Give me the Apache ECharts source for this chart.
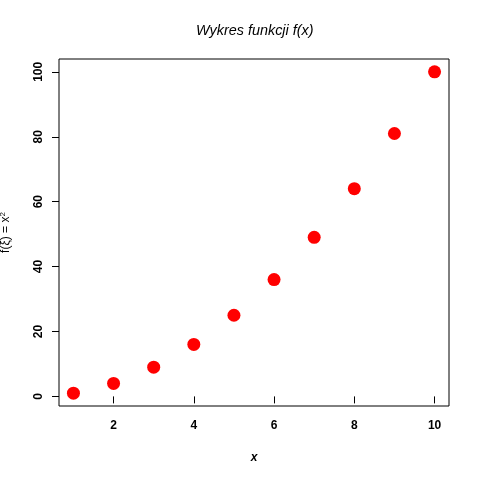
<!DOCTYPE html>
<html><head><meta charset="utf-8">
<script src="https://cdn.jsdelivr.net/npm/echarts@6/dist/echarts.min.js"></script>
<style>html,body{margin:0;padding:0;background:#fff}#c{width:480px;height:480px}</style>
</head><body><div id="c"></div>
<script>
const xValues = [1, 2, 3, 4, 5, 6, 7, 8, 9, 10];
const yValues = [1, 4, 9, 16, 25, 36, 49, 64, 81, 100];
const xTicks = [2, 4, 6, 8, 10];
const yTicks = [0, 20, 40, 60, 80, 100];
const titleText = 'Wykres funkcji f(x)';

const font = 'Liberation Sans, Arial, sans-serif';
const chart = echarts.init(document.getElementById('c'), null, {renderer: 'canvas'});
chart.setOption({
  animation: false,
  backgroundColor: '#fff',
  title: {text: titleText, left: 191, top: 19,
    textStyle: {fontFamily: font, fontStyle: 'italic', fontWeight: 'normal', fontSize: 14.4, color: '#000'}},
  grid: {left: 59, right: 31, top: 59, bottom: 74, show: true, borderColor: '#000', borderWidth: 1,
    backgroundColor: 'transparent', containLabel: false, outerBoundsMode: 'none'},
  xAxis: {type: 'value', min: 0.64, max: 10.36,
    name: 'x', nameLocation: 'middle', nameGap: 46,
    nameTextStyle: {fontFamily: font, fontStyle: 'italic', fontWeight: 'bold', fontSize: 12, color: '#000'},
    axisLine: {show: false}, splitLine: {show: false},
    axisTick: {show: true, length: 7, lineStyle: {color: '#000'}, customValues: xTicks},
    axisLabel: {customValues: xTicks, margin: 14, fontFamily: font, fontWeight: 'bold', fontSize: 12, color: '#000'}},
  yAxis: {type: 'value', min: -2.96, max: 103.96,
    name: '{a|f(ξ) = x}{s|2}', nameLocation: 'middle', nameGap: 46, nameRotate: 90,
    nameTextStyle: {rich: {
      a: {fontFamily: font, fontSize: 12, color: '#000'},
      s: {fontFamily: font, fontSize: 8, color: '#000', verticalAlign: 'top', padding: [0,0,6,0]}}},
    axisLine: {show: false}, splitLine: {show: false},
    axisTick: {show: true, length: 7, lineStyle: {color: '#000'}, customValues: yTicks},
    axisLabel: {customValues: yTicks, rotate: 90, margin: 14, fontFamily: font, fontWeight: 'bold', fontSize: 12, color: '#000'}},
  series: [{type: 'scatter', data: xValues.map((x, i) => [x, yValues[i]]),
    symbol: 'circle', symbolSize: 13, itemStyle: {color: '#ff0000', opacity: 1}}]
});
</script></body></html>
